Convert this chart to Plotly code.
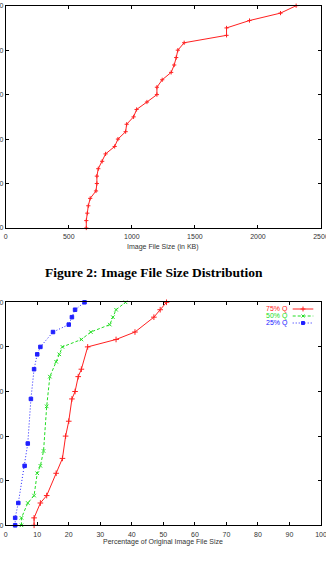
import plotly.graph_objects as go

W, H = 326, 563

# ---------------- data ----------------
# Top chart: cumulative distribution of image file size
top_size_kb = [639, 639, 647, 655, 670, 716, 723, 723, 734, 765, 792, 864, 890, 951, 959,
               1014, 1038, 1120, 1199, 1199, 1241, 1312, 1336, 1352, 1365, 1415, 1751, 1751,
               1933, 2179, 2303]
top_cdf = [0, 3.33, 6.67, 10, 13.33, 16.67, 20, 23.33, 26.67, 30, 33.33, 36.67, 40, 43.33,
           46.67, 50, 53.33, 56.67, 60, 63.33, 66.67, 70, 73.33, 76.67, 80, 83.33, 86.67, 90,
           93.33, 96.67, 100]

# Bottom chart: percentage of original file size per JPEG quality
q75_pct = [9, 9, 11, 13, 16, 18, 19, 20, 21, 22, 23, 24, 26, 35, 41, 47, 49, 51]
q75_cdf = [0, 3.33, 10, 13.33, 23.33, 30, 40, 46.67, 56.67, 60, 66.67, 70, 80, 83.33, 86.67,
           93.33, 96.67, 100]
q50_pct = [5, 5, 7, 9, 10, 11, 12, 13, 14, 16, 17, 18, 24, 27, 33, 34, 35, 38]
q50_cdf = [0, 3.33, 10, 13.33, 23.33, 26.67, 33.33, 53.33, 66.67, 73.33, 76.67, 80, 83.33,
           86.67, 90, 93.33, 96.67, 100]
q25_pct = [3, 3, 4, 6, 7, 8, 9, 10, 11, 15, 20, 21, 22, 25]
q25_cdf = [0, 3.33, 10, 26.67, 36.67, 56.67, 70, 76.67, 80, 86.67, 90, 93.33, 96.67, 100]

y_ticks = [0, 20, 40, 60, 80, 100]
top_x_ticks = [0, 500, 1000, 1500, 2000, 2500]
bot_x_ticks = [0, 10, 20, 30, 40, 50, 60, 70, 80, 90, 100]

series = [
    ("75% Q", q75_pct, q75_cdf, "#ff2020", "solid", "cross-thin-open", 4),
    ("50% Q", q50_pct, q50_cdf, "#22dd22", "3px,2px", "x-thin-open", 3.5),
    ("25% Q", q25_pct, q25_cdf, "#2020ff", "1px,2px", "square", 3.5),
]

# ---------------- layout helpers ----------------
def px_x(p):
    return p / W

def px_y(p):
    return (H - p) / H

TICKFONT = dict(family="Liberation Sans, Arial, sans-serif", size=7, color="#333333")

def axis_common():
    return dict(showline=True, linecolor="black", linewidth=1, mirror="allticks",
                ticks="inside", ticklen=3, tickwidth=1, tickcolor="black",
                showgrid=False, zeroline=False, tickfont=TICKFONT,
                automargin=False, fixedrange=True, ticklabeloverflow="allow")

fig = go.Figure()

fig.add_trace(go.Scatter(
    x=top_size_kb, y=top_cdf, mode="lines+markers",
    line=dict(color="#ff2020", width=1),
    marker=dict(symbol="cross-thin-open", size=3, line=dict(color="#ff2020", width=1)),
    xaxis="x", yaxis="y", showlegend=False, hoverinfo="skip", cliponaxis=False))

for name, xs, ys, col, dash, sym, msz in series:
    fig.add_trace(go.Scatter(
        x=xs, y=ys, mode="lines+markers", name=name,
        line=dict(color=col, width=1, dash=dash),
        marker=dict(symbol=sym, size=msz, color=col, line=dict(color=col, width=1)),
        xaxis="x2", yaxis="y2", showlegend=False, hoverinfo="skip", cliponaxis=False))

# custom legend (text right-aligned, sample to the right), on a hidden pixel-space axis
leg_rows = [309, 316, 323]
for (name, xs, ys, col, dash, sym, msz), ry in zip(series, leg_rows):
    fig.add_trace(go.Scatter(
        x=[292.7, 313.3], y=[ry, ry], mode="lines",
        line=dict(color=col, width=1, dash=dash),
        xaxis="x3", yaxis="y3", showlegend=False, hoverinfo="skip"))
    fig.add_trace(go.Scatter(
        x=[303], y=[ry], mode="markers",
        marker=dict(symbol=sym, size=msz - 0.5, color=col, line=dict(color=col, width=1)),
        xaxis="x3", yaxis="y3", showlegend=False, hoverinfo="skip"))
    fig.add_annotation(text=name, x=px_x(289.5), y=px_y(ry), xref="paper", yref="paper",
                       xanchor="right", yanchor="middle", showarrow=False,
                       font=dict(family="Liberation Sans, Arial, sans-serif", size=7, color=col))

x_dom = [px_x(5.7), px_x(321)]

fig.update_layout(
    width=W, height=H, autosize=False,
    margin=dict(l=0, r=0, t=0, b=0, pad=0),
    paper_bgcolor="white", plot_bgcolor="rgba(0,0,0,0)",
    xaxis=dict(domain=x_dom, range=[0, 2500], tickvals=top_x_ticks, anchor="y",
               ticklabelstandoff=2, **axis_common()),
    yaxis=dict(domain=[px_y(228), px_y(5.7)], range=[0, 100], tickvals=y_ticks, anchor="x",
               **axis_common()),
    xaxis2=dict(domain=x_dom, range=[0, 100], tickvals=bot_x_ticks, anchor="y2",
                ticklabelstandoff=2, **axis_common()),
    yaxis2=dict(domain=[px_y(525.3), px_y(302.3)], range=[0, 100], tickvals=y_ticks,
                anchor="x2", **axis_common()),
    xaxis3=dict(domain=[0, 1], range=[0, W], visible=False, anchor="y3", fixedrange=True),
    yaxis3=dict(domain=[0, 1], range=[H, 0], visible=False, anchor="x3", fixedrange=True),
)

# axis titles and caption
fig.add_annotation(text="Image File Size (in KB)", x=px_x(163.3), y=px_y(246.5),
                   xref="paper", yref="paper", xanchor="center", yanchor="middle",
                   showarrow=False, font=TICKFONT)
fig.add_annotation(text="Percentage of Original Image File Size", x=px_x(163.3), y=px_y(542),
                   xref="paper", yref="paper", xanchor="center", yanchor="middle",
                   showarrow=False, font=TICKFONT)
fig.add_annotation(text="<b>Figure 2: Image File Size Distribution</b>", x=px_x(154),
                   y=px_y(272), xref="paper", yref="paper", xanchor="center",
                   yanchor="middle", showarrow=False,
                   font=dict(family="Liberation Serif, Times New Roman, serif", size=13.5,
                             color="black"))

fig.write_html("out.html", config={"displayModeBar": False, "staticPlot": True})
